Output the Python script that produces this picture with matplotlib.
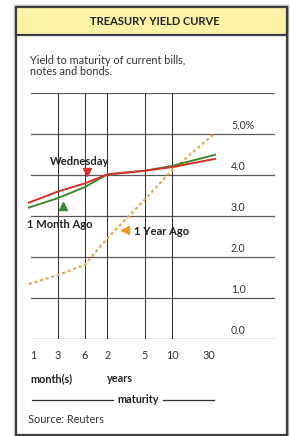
"""Treasury yield curve card, redrawn with matplotlib."""

import matplotlib
matplotlib.use("Agg")
import matplotlib.pyplot as plt
from matplotlib.patches import Rectangle
from matplotlib.lines import Line2D

plt.rcParams['font.family'] = ['Lato', 'DejaVu Sans']

# data
maturities = ['1', '3', '6', '2', '5', '10', '30']
wednesday = [3.32, 3.59, 3.79, 4.01, 4.10, 4.19, 4.39]
month_ago = [3.20, 3.43, 3.70, 4.01, 4.10, 4.22, 4.49]
year_ago = [1.33, 1.55, 1.80, 2.45, 3.40, 4.12, 5.02]
y_ticks = [0, 1, 2, 3, 4, 5]
y_labels = ['0.0', '1.0', '2.0', '3.0', '4.0', '5.0%']

# layout (pixel-like units along the maturity axis)
curve_x = [29, 57.7, 84.7, 107.3, 145, 172.3, 215]
label_x = [33, 57.7, 84.7, 107.3, 145, 172.3, 209]
grid_x = [57.7, 84.7, 107.3, 145, 172.3]

W, H = 290, 436
RED = '#d8312a'
GREEN = '#3b8a33'
ORANGE = '#f4a03c'
DARK = '#2b2b2b'
FS = 7.8

fig = plt.figure(figsize=(W / 100, H / 100), dpi=100)
fig.patch.set_facecolor('white')

# overlay axes in pixel coordinates for the card
bg = fig.add_axes([0, 0, 1, 1])
bg.set_xlim(0, W)
bg.set_ylim(H, 0)
bg.axis('off')

# soft shadow
for off, a in [(3, 0.06), (2, 0.10), (1, 0.16)]:
    bg.add_patch(Rectangle((16 - off, 7 - off), 272 + off, 429 + off,
                           facecolor='none', edgecolor='black', lw=1, alpha=a))
bg.add_patch(Rectangle((16, 7), 271, 428, facecolor='white',
                       edgecolor='#3c3c3c', lw=1.6))
bg.add_patch(Rectangle((16, 7), 271, 28, facecolor='#fcf3a7',
                       edgecolor='#3c3c3c', lw=1.6))
bg.text(155, 21.5, 'TREASURY YIELD CURVE', ha='center', va='center',
        fontsize=8.0, fontweight='bold', color='#222222')
bg.text(30, 66, 'Yield to maturity of current bills,\nnotes and bonds.',
        ha='left', va='center', fontsize=FS, color='#333333', linespacing=1.1)

# maturity labels below the chart
for x, lab in zip(label_x, maturities):
    bg.text(x, 355, lab, ha='center', va='center', fontsize=FS, color='#333333')
bg.text(30, 378.5, 'month(s)', ha='left', va='center', fontsize=FS,
        fontweight='bold', color='#222222')
bg.text(107, 378.5, 'years', ha='left', va='center', fontsize=FS,
        fontweight='bold', color='#222222')
bg.text(138, 399.5, 'maturity', ha='center', va='center', fontsize=FS,
        fontweight='bold', color='#222222')
bg.add_line(Line2D([32, 113], [399.7, 399.7], color=DARK, lw=0.9))
bg.add_line(Line2D([163, 214], [399.7, 399.7], color=DARK, lw=0.9))
bg.text(28, 419, 'Source: Reuters', ha='left', va='center', fontsize=FS,
        color='#333333')

# chart axes
top, bottom = 93, 338.5
ax = fig.add_axes([31 / W, (H - bottom) / H, (275 - 31) / W, (bottom - top) / H])
ax.set_xlim(31, 275)
ax.set_ylim(0, 6)
ax.axis('off')

for v in range(0, 7):
    ax.axhline(v, color='#5a5a5a', lw=0.9, zorder=1)
for x in grid_x:
    ax.plot([x, x], [0, 6], color=DARK, lw=0.7, zorder=1)
for v, lab in zip(y_ticks, y_labels):
    ax.text(231, v + 0.06, lab, ha='left', va='bottom', fontsize=7.6,
            color='#333333')

ax.plot(curve_x, year_ago, color=ORANGE, lw=1.5, ls=(0, (1.4, 1.4)),
        zorder=2, clip_on=False)
ax.plot(curve_x, month_ago, color=GREEN, lw=1.4, zorder=3, clip_on=False)
ax.plot(curve_x, wednesday, color=RED, lw=1.4, zorder=4, clip_on=False)

# annotations
ax.plot(87.3, 4.06, marker='v', color=RED, ms=6, zorder=5)
ax.text(80, 4.32, 'Wednesday', ha='center', va='center', fontsize=8.0,
        fontweight='bold', color='#222222')
ax.plot(62.7, 3.24, marker='^', color=GREEN, ms=6, zorder=5)
ax.text(59.5, 2.78, '1 Month Ago', ha='center', va='center', fontsize=8.0,
        fontweight='bold', color='#222222')
ax.plot(125, 2.65, marker='<', color='#f39a1e', ms=6, zorder=5)
ax.text(134, 2.61, '1 Year Ago', ha='left', va='center', fontsize=8.0,
        fontweight='bold', color='#222222')

fig.savefig('out.png', dpi=100)
